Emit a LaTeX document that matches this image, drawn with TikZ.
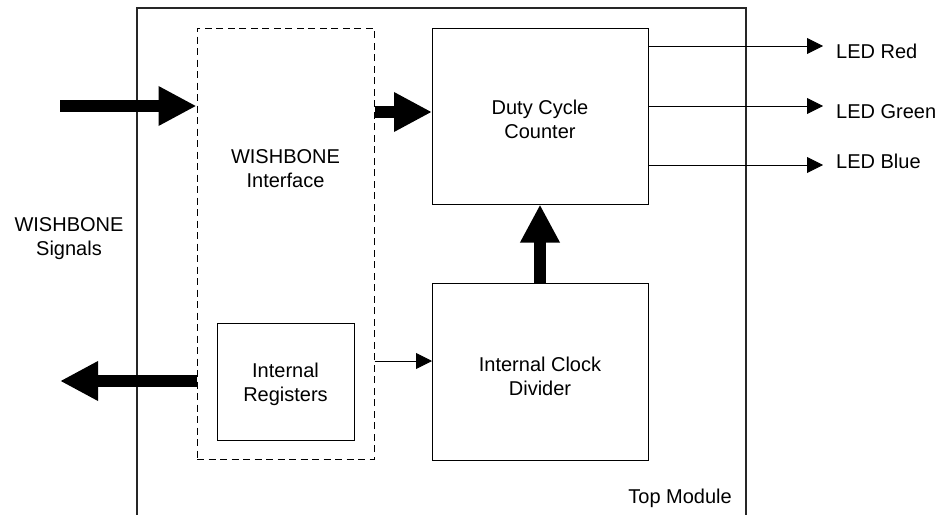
\documentclass[tikz,border=0pt]{standalone}
\usepackage{fontspec}
\setmainfont{Liberation Sans}
\usetikzlibrary{arrows.meta}
\begin{document}
\begin{tikzpicture}[x=1pt,y=-1pt,
  txt/.style={font=\fontsize{20}{24}\selectfont, inner sep=0pt, align=center},
  block/.style={draw, line width=1pt, inner sep=0pt},
  bus/.style={line width=12pt, -{Triangle[length=38pt,width=37pt]}},
  wire/.style={line width=0.9pt, -{Triangle[length=16pt,width=16pt]}}]
\useasboundingbox (0,0) rectangle (945,514);

% enclosing top module (open at the bottom edge)
\begin{scope}
  \clip (0,0) rectangle (945,514);
  \draw[line width=1.1pt, black!85] (137,530) -- (137,8) -- (746,8) -- (746,530);
\end{scope}

% functional blocks
\node[block, dashed, dash pattern=on 7pt off 4.5pt, minimum width=177pt, minimum height=431pt]
  (wbi) at (285.5,243.5) {};
\node[block, minimum width=216pt, minimum height=176pt] (dcc) at (540,116) {};
\node[block, minimum width=216pt, minimum height=177pt] (icd) at (540,371.5) {};
\node[block, minimum width=137pt, minimum height=117pt] (reg) at (285.5,381.5) {};

% block titles (base anchor = baseline of the last line)
\node[txt, anchor=base] (wbitxt) at (285.5,187) {WISHBONE\\Interface};
\node[txt, anchor=base] (dcctxt) at (540,138) {Duty Cycle\\Counter};
\node[txt, anchor=base] (icdtxt) at (540,395) {Internal Clock\\Divider};
\node[txt, anchor=base] (regtxt) at (285.5,401) {Internal\\Registers};
\node[txt, anchor=base] (sigtxt) at (69,255) {WISHBONE\\Signals};
\node[txt, anchor=base east] (toptxt) at (732,503) {Top Module};

% bus connections
\coordinate (win) at (60,106);
\coordinate (wout) at (60,381);
\coordinate (dccin) at (432,112);
\coordinate (icdin) at (432,361);
\draw[bus] (win) -- (win -| wbi.west);
\draw[bus] (wbi.east |- dccin) -- (dccin);
\draw[bus] (wbi.west |- wout) -- (wout);
\draw[bus] (icd.north) -- (dcc.south);
\draw[wire] (wbi.east |- icdin) -- (icdin);

% LED outputs
\coordinate (red) at (823,46);
\coordinate (green) at (823,106);
\coordinate (blue) at (823,165);
\draw[wire] (dcc.east |- red) -- (red);
\draw[wire] (dcc.east |- green) -- (green);
\draw[wire] (dcc.east |- blue) -- (blue);
\node[txt, anchor=base west] (redtxt) at (836,58) {LED Red};
\node[txt, anchor=base west] (greentxt) at (836,118) {LED Green};
\node[txt, anchor=base west] (bluetxt) at (836,168) {LED Blue};
\end{tikzpicture}
\end{document}
